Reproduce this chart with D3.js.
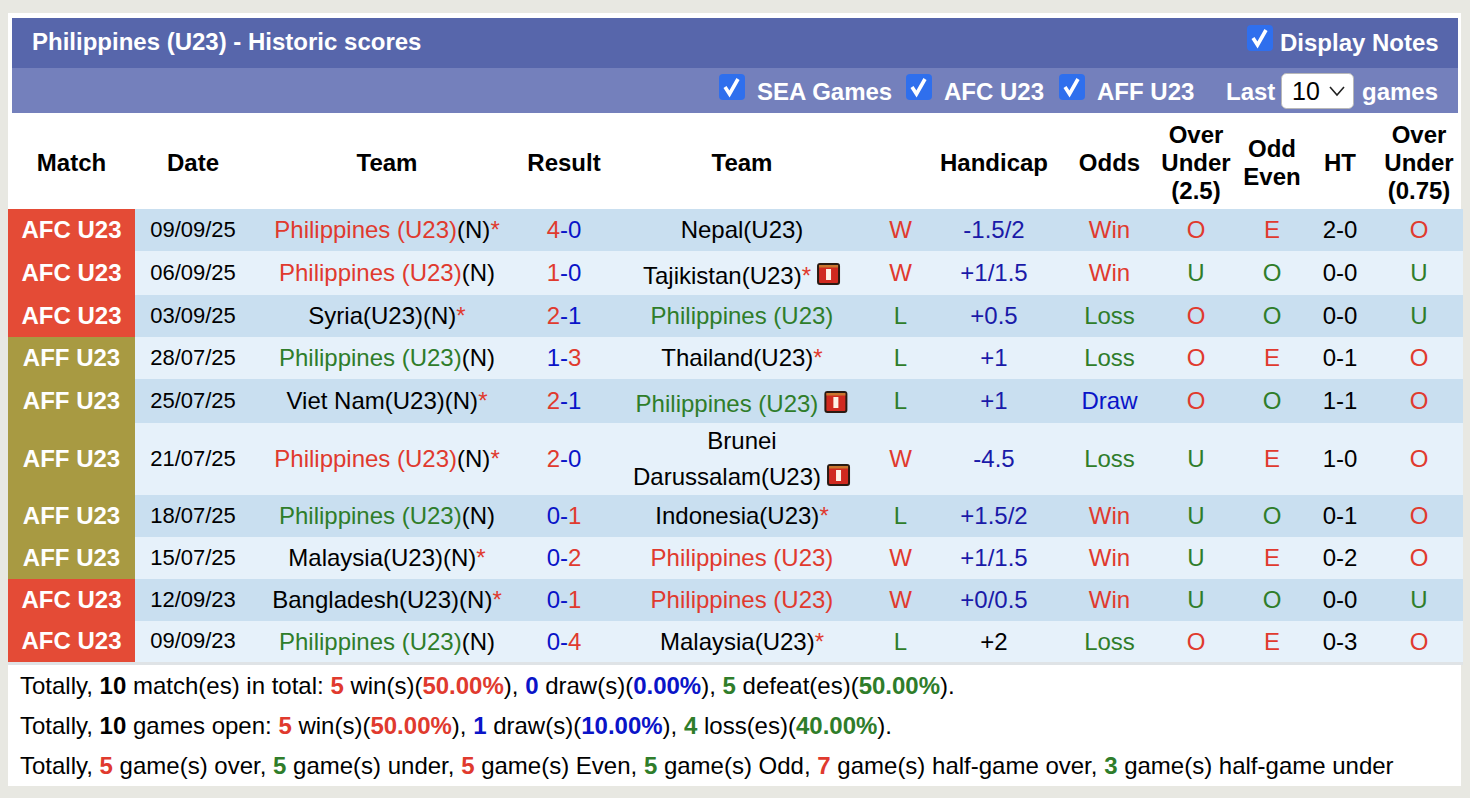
<!DOCTYPE html>
<html>
<head>
<meta charset="utf-8">
<script src="https://cdn.jsdelivr.net/npm/d3@7"></script>
<style>
  html, body { margin: 0; padding: 0; background: #e8e8e2; overflow: hidden; }
  svg { display: block; font-family: "Liberation Sans", Arial, sans-serif; }
</style>
</head>
<body>
<div id="chart"></div>
<script>
const leagues = ["AFC U23","AFC U23","AFC U23","AFF U23","AFF U23","AFF U23","AFF U23","AFF U23","AFC U23","AFC U23"];
const dates = ["09/09/25","06/09/25","03/09/25","28/07/25","25/07/25","21/07/25","18/07/25","15/07/25","12/09/23","09/09/23"];
const homeTeams = ["Philippines (U23)","Philippines (U23)","Syria(U23)","Philippines (U23)","Viet Nam(U23)","Philippines (U23)","Philippines (U23)","Malaysia(U23)","Bangladesh(U23)","Philippines (U23)"];
const homeStars = [1,0,1,0,1,1,0,1,1,0];
const awayTeams = ["Nepal(U23)","Tajikistan(U23)","Philippines (U23)","Thailand(U23)","Philippines (U23)","Brunei|Darussalam(U23)","Indonesia(U23)","Philippines (U23)","Philippines (U23)","Malaysia(U23)"];
const awayStars = [0,1,0,1,0,0,1,0,0,1];
const awayCards = [0,1,0,0,1,1,0,0,0,0];
const homeGoals = [4,1,2,1,2,2,0,0,0,0];
const awayGoals = [0,0,1,3,1,0,1,2,1,4];
const results = ["W","W","L","L","L","W","L","W","W","L"];
const handicaps = ["-1.5/2","+1/1.5","+0.5","+1","+1","-4.5","+1.5/2","+1/1.5","+0/0.5","+2"];
const odds = ["Win","Win","Loss","Loss","Draw","Loss","Win","Win","Win","Loss"];
const overUnder = ["O","U","O","O","O","U","U","U","U","O"];
const oddEven = ["E","O","O","E","O","E","O","E","O","E"];
const halfTime = ["2-0","0-0","0-0","0-1","1-1","1-0","0-1","0-2","0-0","0-3"];
const overUnderHalf = ["O","U","U","O","O","O","O","O","U","O"];

const headers = [
  ["match", ["Match"]], ["date", ["Date"]], ["home", ["Team"]], ["score", ["Result"]], ["away", ["Team"]],
  ["hcap", ["Handicap"]], ["odds", ["Odds"]], ["ou", ["Over","Under","(2.5)"]], ["oe", ["Odd","Even"]],
  ["ht", ["HT"]], ["ouh", ["Over","Under","(0.75)"]]
];
const summary = [
  [["Totally, ","k"],["10","kb"],[" match(es) in total: ","k"],["5","rb"],[" win(s)(","k"],["50.00%","rb"],["), ","k"],["0","bb"],[" draw(s)(","k"],["0.00%","bb"],["), ","k"],["5","gb"],[" defeat(es)(","k"],["50.00%","gb"],[").","k"]],
  [["Totally, ","k"],["10","kb"],[" games open: ","k"],["5","rb"],[" win(s)(","k"],["50.00%","rb"],["), ","k"],["1","bb"],[" draw(s)(","k"],["10.00%","bb"],["), ","k"],["4","gb"],[" loss(es)(","k"],["40.00%","gb"],[").","k"]],
  [["Totally, ","k"],["5","rb"],[" game(s) over, ","k"],["5","gb"],[" game(s) under, ","k"],["5","rb"],[" game(s) Even, ","k"],["5","gb"],[" game(s) Odd, ","k"],["7","rb"],[" game(s) half-game over, ","k"],["3","gb"],[" game(s) half-game under","k"]]
];

const RED = "#e03a2e", GREEN = "#2f7d2a", BLUE = "#0a14c8", NAVY = "#1a1aa8";
const colColor = { k: "#000", r: RED, g: GREEN, b: BLUE };
const resultColor = { W: RED, L: GREEN };
const oddsColor = { Win: RED, Loss: GREEN, Draw: BLUE };
const ouColor = { O: RED, U: GREEN };
const oeColor = { E: RED, O: GREEN };
const leagueColor = { "AFC U23": "#e44b36", "AFF U23": "#a89a42" };

const W = 1470, H = 798;
const svg = d3.select("#chart").append("svg").attr("width", W).attr("height", H);

// columns
const x = d3.scaleOrdinal()
  .domain(["match","date","home","score","away","res","hcap","odds","ou","oe","ht","ouh"])
  .range([71.5,193,387,564,742,900.5,994,1109.5,1196,1272,1340,1419]);

// row edges, row 6 is the tall one because of the wrapped name
const rowHeights = [42,44,42,42,44,72,42,42,42,41];
const rowTop = 209;
const edges = d3.cumsum(rowHeights).map(d => d + rowTop);
const rows = leagues.map((d, i) => ({
  i, y0: i ? edges[i - 1] : rowTop, y1: edges[i]
}));

// page frame
svg.append("rect").attr("x", 8).attr("y", 13).attr("width", 1453).attr("height", 773).attr("fill", "#fff");
svg.append("rect").attr("x", 12).attr("y", 18).attr("width", 1446).attr("height", 50).attr("fill", "#5766ab");
svg.append("rect").attr("x", 12).attr("y", 68).attr("width", 1446).attr("height", 45).attr("fill", "#7480bc");

function label(g, txt, px, py, opts) {
  const o = opts || {};
  return g.append("text")
    .attr("x", px).attr("y", py).attr("dy", "0.35em")
    .attr("text-anchor", o.anchor || "middle")
    .attr("font-size", o.size || 24)
    .attr("font-weight", o.bold ? "bold" : "normal")
    .attr("fill", o.fill || "#000")
    .text(txt);
}

const bar = svg.append("g");
label(bar, "Philippines (U23) - Historic scores", 32, 42, { anchor: "start", bold: true, fill: "#fff" });

function checkbox(g, px, py) {
  g.append("rect").attr("x", px).attr("y", py).attr("width", 26).attr("height", 26).attr("rx", 4).attr("fill", "#2f6fed");
  g.append("path").attr("d", `M${px + 6},${py + 13}L${px + 10.5},${py + 20}L${px + 19},${py + 5}`)
    .attr("fill", "none").attr("stroke", "#fff").attr("stroke-width", 3.6);
}
checkbox(bar, 1247, 25);
label(bar, "Display Notes", 1280, 43, { anchor: "start", bold: true, fill: "#fff" });
checkbox(bar, 719, 74);
label(bar, "SEA Games", 757, 92, { anchor: "start", bold: true, fill: "#fff" });
checkbox(bar, 906, 74);
label(bar, "AFC U23", 944, 92, { anchor: "start", bold: true, fill: "#fff" });
checkbox(bar, 1059, 74);
label(bar, "AFF U23", 1097, 92, { anchor: "start", bold: true, fill: "#fff" });
label(bar, "Last", 1226, 92, { anchor: "start", bold: true, fill: "#fff" });
bar.append("rect").attr("x", 1281.5).attr("y", 73.5).attr("width", 72).attr("height", 35).attr("rx", 5)
  .attr("fill", "#fff").attr("stroke", "#b8b8b8");
label(bar, "10", 1292, 91, { anchor: "start", size: 25 });
bar.append("path").attr("d", "M1330,87L1337,95L1344,87").attr("fill", "none").attr("stroke", "#222").attr("stroke-width", 1.6);
label(bar, "games", 1362, 92, { anchor: "start", bold: true, fill: "#fff" });

// header row
const head = svg.append("g");
headers.forEach(([col, lines]) => {
  const lineH = 28;
  const y0 = 163 - (lines.length - 1) * lineH / 2;
  lines.forEach((t, k) => label(head, t, x(col), y0 + k * lineH, { bold: true }));
});

// body rows
const body = svg.append("g");
body.selectAll("rect.row").data(rows).join("rect")
  .attr("class", "row")
  .attr("x", 135).attr("y", d => d.y0)
  .attr("width", 1463 - 135).attr("height", d => d.y1 - d.y0)
  .attr("fill", d => d.i % 2 ? "#e6f1fa" : "#c9dff0");
body.selectAll("rect.league").data(rows).join("rect")
  .attr("class", "league")
  .attr("x", 8).attr("y", d => d.y0)
  .attr("width", 127).attr("height", d => d.y1 - d.y0)
  .attr("fill", d => leagueColor[leagues[d.i]]);
body.append("rect").attr("x", 8).attr("y", edges[9]).attr("width", 1455).attr("height", 3).attr("fill", "#dfe3e6");

function redCard(g, px, py) {
  g.append("rect").attr("x", px).attr("y", py).attr("width", 23).attr("height", 22).attr("rx", 3).attr("fill", "#2a1a12");
  g.append("rect").attr("x", px + 2).attr("y", py + 2).attr("width", 19).attr("height", 18).attr("rx", 1).attr("fill", "#d02a20");
  g.append("rect").attr("x", px + 2).attr("y", py + 2).attr("width", 19).attr("height", 2.5).attr("fill", "#c9762e");
  g.append("rect").attr("x", px + 9).attr("y", py + 6).attr("width", 5).attr("height", 11).attr("fill", "#fdf2e6");
}

function teamCell(g, col, name, star, card, cy, won) {
  const t = g.append("text").attr("y", cy).attr("dy", "0.35em").attr("font-size", 24).attr("text-anchor", "middle").attr("x", x(col));
  const isPh = name.startsWith("Philippines");
  t.append("tspan").attr("fill", isPh ? resultColor[won] : "#000").text(name);
  if (col === "home") t.append("tspan").attr("fill", "#000").text("(N)");
  if (star) t.append("tspan").attr("fill", RED).text("*");
  if (card) {
    const w = t.node().getComputedTextLength();
    const cardW = 23 + 7;
    t.attr("x", x(col) - cardW / 2);
    redCard(g, x(col) - cardW / 2 + w / 2 + 6, cy - 13);
  }
}

rows.forEach(r => {
  const i = r.i;
  const g = body.append("g");
  const cy = (r.y0 + r.y1) / 2;
  label(g, leagues[i], x("match"), cy - 0.5, { bold: true, fill: "#fff" });
  label(g, dates[i], x("date"), cy - 1, { size: 22 });
  teamCell(g, "home", homeTeams[i], homeStars[i], 0, cy, results[i]);

  const s = g.append("text").attr("x", x("score")).attr("y", cy).attr("dy", "0.35em").attr("font-size", 24).attr("text-anchor", "middle");
  const hg = homeGoals[i], ag = awayGoals[i];
  s.append("tspan").attr("fill", hg > ag ? RED : BLUE).text(hg);
  s.append("tspan").attr("fill", BLUE).text("-");
  s.append("tspan").attr("fill", ag > hg ? RED : BLUE).text(ag);

  const lines = awayTeams[i].split("|");
  if (lines.length > 1) {
    label(g, lines[0], x("away"), cy - 18);
    teamCell(g, "away", lines[1], awayStars[i], awayCards[i], cy + 18, results[i]);
  } else {
    teamCell(g, "away", lines[0], awayStars[i], awayCards[i], cy + (awayCards[i] ? 3 : 0), results[i]);
  }

  label(g, results[i], x("res"), cy, { fill: resultColor[results[i]] });
  label(g, handicaps[i], x("hcap"), cy, { fill: i === 9 ? "#000" : NAVY });
  label(g, odds[i], x("odds"), cy, { fill: oddsColor[odds[i]] });
  label(g, overUnder[i], x("ou"), cy, { fill: ouColor[overUnder[i]] });
  label(g, oddEven[i], x("oe"), cy, { fill: oeColor[oddEven[i]] });
  label(g, halfTime[i], x("ht"), cy);
  label(g, overUnderHalf[i], x("ouh"), cy, { fill: ouColor[overUnderHalf[i]] });
});

// summary lines
const foot = svg.append("g");
summary.forEach((segs, k) => {
  const t = foot.append("text").attr("x", 20).attr("y", 686 + k * 40).attr("dy", "0.35em").attr("font-size", 24);
  segs.forEach(([txt, c]) => {
    t.append("tspan").style("white-space", "pre")
      .attr("fill", colColor[c[0]])
      .attr("font-weight", c.length > 1 ? "bold" : "normal")
      .text(txt);
  });
});
</script>
</body>
</html>
